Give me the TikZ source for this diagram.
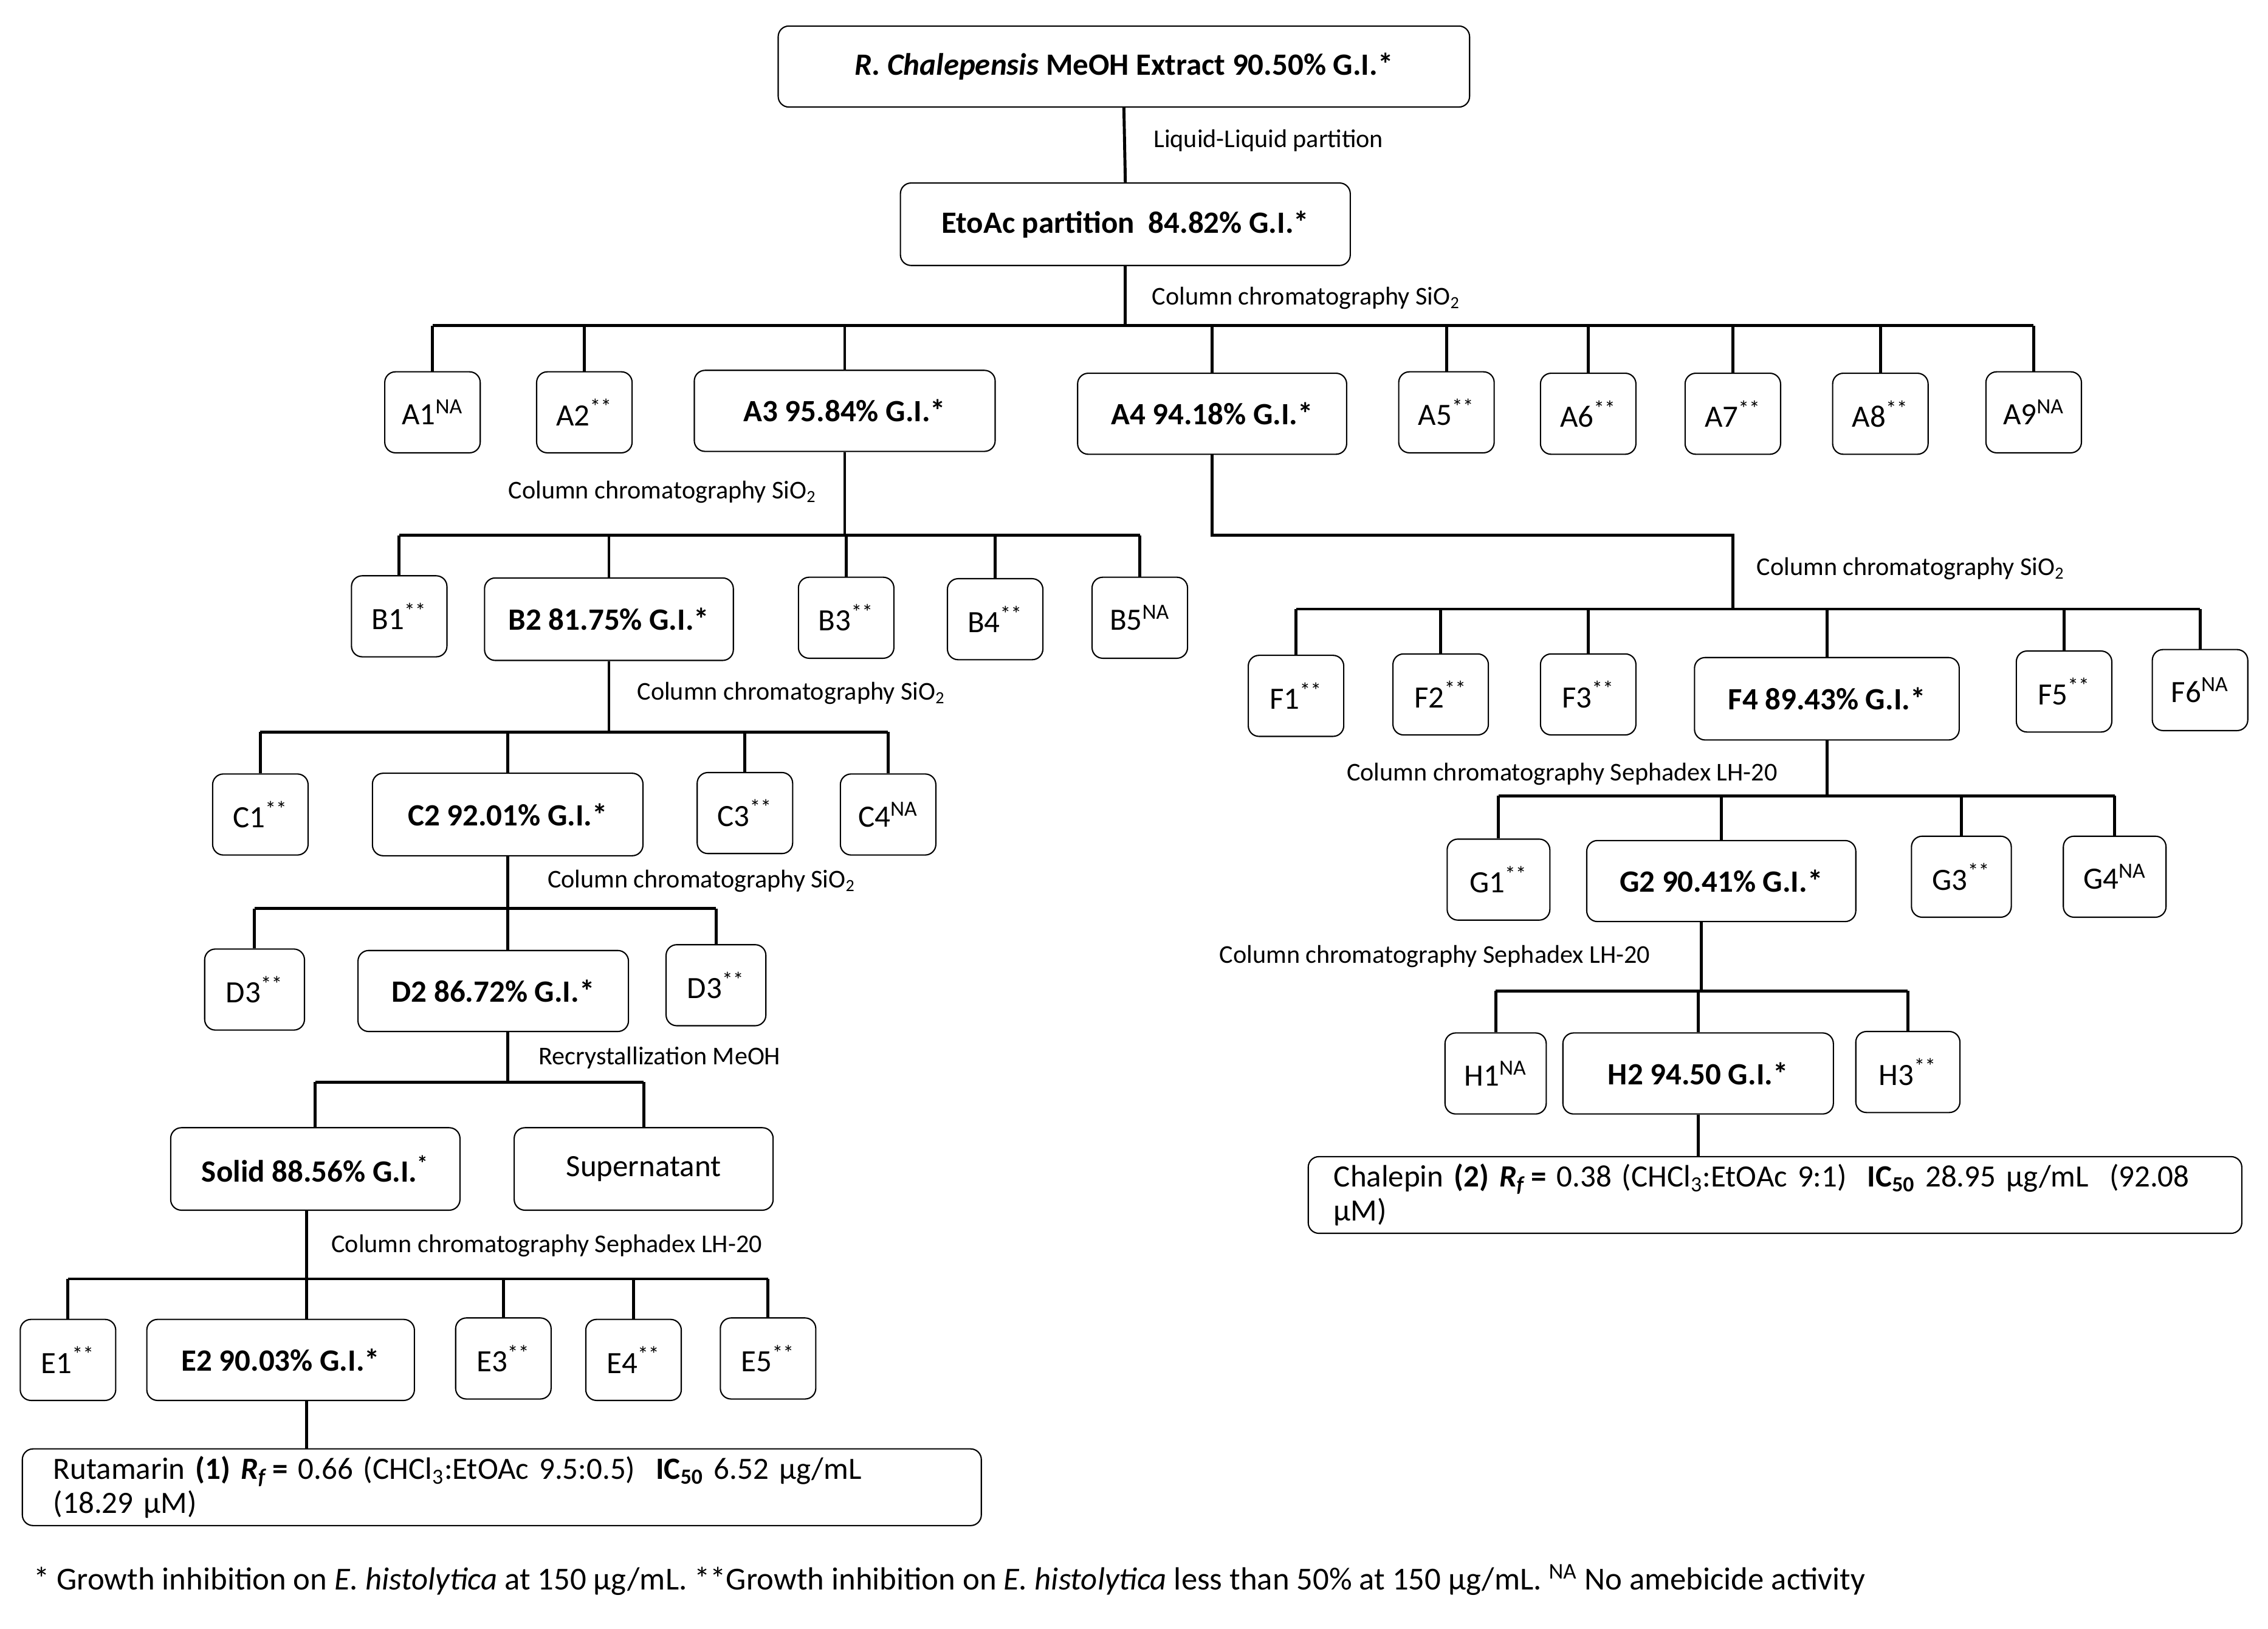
\documentclass[tikz,border=0pt]{standalone}
\usepackage{fontspec}
\setmainfont{Carlito}
\begin{document}
\begin{tikzpicture}[x=0.0238cm,y=-0.0238cm,
 box/.style={draw,rounded corners=5pt,line width=0.6pt,minimum height=56*0.0238cm,inner sep=2pt,font=\fontsize{14.5}{16}\selectfont},
 sm/.style={box,minimum width=66*0.0238cm},
 big/.style={box,font=\fontsize{14.5}{16}\selectfont\bfseries},
 ln/.style={line width=1.4pt},
 lab/.style={font=\fontsize{12}{14}\selectfont,anchor=center}]
\useasboundingbox (0,0) rectangle (1568,1126);
% top
\node[big,minimum width=478*0.0238cm] (top) at (777,46) {\textit{R. Chalepensis} MeOH Extract 90.50\% G.I.*};
\node[big,minimum width=311*0.0238cm,minimum height=57*0.0238cm] (et) at (778,155) {EtoAc partition\ \ 84.82\% G.I.*};
\draw[ln] (top.south) -- (et.north);
\node[lab] at (877,97) {Liquid-Liquid partition};
% A level
\node[sm] (A1) at (299,285) {A1\textsuperscript{NA}};
\node[sm] (A2) at (404,285) {A2\textsuperscript{**}};
\node[big,minimum width=208*0.0238cm] (A3) at (584,284) {A3 95.84\% G.I.*};
\node[big,minimum width=186*0.0238cm] (A4) at (838,286) {A4 94.18\% G.I.*};
\node[sm] (A5) at (1000,285) {A5\textsuperscript{**}};
\node[sm] (A6) at (1098,286) {A6\textsuperscript{**}};
\node[sm] (A7) at (1198,286) {A7\textsuperscript{**}};
\node[sm] (A8) at (1300,286) {A8\textsuperscript{**}};
\node[sm] (A9) at (1406,285) {A9\textsuperscript{NA}};
\coordinate (ab) at (778,225);
\draw[ln] (et.south) -- (ab);
\draw[ln] (A1.north|-ab) -- (A9.north|-ab);
\foreach \n in {A1,A2,A3,A4,A5,A6,A7,A8,A9} \draw[ln] (\n.north|-ab) -- (\n.north);
\node[lab] at (903,206) {Column chromatography SiO\textsubscript{2}};
% B level
\node[sm] (B1) at (276,426) {B1\textsuperscript{**}};
\node[big,minimum width=172*0.0238cm,minimum height=57*0.0238cm] (B2) at (421,428) {B2 81.75\% G.I.*};
\node[sm] (B3) at (585,427) {B3\textsuperscript{**}};
\node[sm] (B4) at (688,428) {B4\textsuperscript{**}};
\node[sm] (B5) at (788,427) {B5\textsuperscript{NA}};
\coordinate (bb) at (581,370);
\draw[ln] (A3.south) -- (A3.south|-bb);
\draw[ln] (B1.north|-bb) -- (B5.north|-bb);
\foreach \n in {B1,B2,B3,B4,B5} \draw[ln] (\n.north|-bb) -- (\n.north);
\node[lab] at (458,340) {Column chromatography SiO\textsubscript{2}};
% C level
\node[sm] (C1) at (180,563) {C1\textsuperscript{**}};
\node[big,minimum width=187*0.0238cm,minimum height=57*0.0238cm] (C2) at (351,563) {C2 92.01\% G.I.*};
\node[sm] (C3) at (515,562) {C3\textsuperscript{**}};
\node[sm] (C4) at (614,563) {C4\textsuperscript{NA}};
\coordinate (cb) at (428,506);
\draw[ln] (B2.south) -- (B2.south|-cb);
\draw[ln] (C1.north|-cb) -- (C4.north|-cb);
\foreach \n in {C1,C2,C3,C4} \draw[ln] (\n.north|-cb) -- (\n.north);
\node[lab] at (547,479) {Column chromatography SiO\textsubscript{2}};
% D level
\node[sm,minimum width=69*0.0238cm] (D1) at (176,684) {D3\textsuperscript{**}};
\node[big,minimum width=187*0.0238cm] (D2) at (341,685) {D2 86.72\% G.I.*};
\node[sm,minimum width=69*0.0238cm] (D3) at (495,681) {D3\textsuperscript{**}};
\coordinate (db) at (351,628);
\draw[ln] (C2.south) -- (C2.south|-db);
\draw[ln] (D1.north|-db) -- (D3.north|-db);
\draw[ln] (D1.north|-db) -- (D1.north);
\draw[ln] (C2.south|-db) -- (C2.south|-D2.north);
\draw[ln] (D3.north|-db) -- (D3.north);
\node[lab] at (485,609) {Column chromatography SiO\textsubscript{2}};
% recrystallization
\node[box,minimum width=200*0.0238cm,minimum height=57*0.0238cm,font=\fontsize{14.5}{16}\selectfont\bfseries] (S) at (218,808) {Solid 88.56\% G.I.\textsuperscript{*}};
\node[box,minimum width=179*0.0238cm,minimum height=57*0.0238cm] (SP) at (445,808) {Supernatant};
\coordinate (sb) at (351,748);
\draw[ln] (D2.south-|sb) -- (sb);
\draw[ln] (S.north|-sb) -- (SP.north|-sb);
\draw[ln] (S.north|-sb) -- (S.north);
\draw[ln] (SP.north|-sb) -- (SP.north);
\node[lab] at (456,731) {Recrystallization MeOH};
% E level
\node[sm] (E1) at (47,940) {E1\textsuperscript{**}};
\node[big,minimum width=185*0.0238cm] (E2) at (194,940) {E2 90.03\% G.I.*};
\node[sm] (E3) at (348,939) {E3\textsuperscript{**}};
\node[sm] (E4) at (438,940) {E4\textsuperscript{**}};
\node[sm] (E5) at (531,939) {E5\textsuperscript{**}};
\coordinate (eb) at (212,884);
\draw[ln] (S.south-|eb) -- (eb);
\draw[ln] (E1.north|-eb) -- (E5.north|-eb);
\foreach \n in {E1,E3,E4,E5} \draw[ln] (\n.north|-eb) -- (\n.north);
\draw[ln] (eb) -- (eb|-E2.north);
\node[lab] at (378,861) {Column chromatography Sephadex LH-20};
\node[box,minimum width=663*0.0238cm,minimum height=53*0.0238cm,anchor=west,inner xsep=14pt,text width=620*0.0238cm,align=left] (R) at (15,1028) {Rutamarin \textbf{(1)} \textbf{\textit{R}\textsubscript{\textit{f}}\,=} 0.66 (CHCl\textsubscript{3}:EtOAc 9.5:0.5)\ \ \textbf{IC\textsubscript{50}} 6.52 µg/mL (18.29 µM)};
\draw[ln] (E2.south-|eb) -- (eb|-R.north);
% F level
\node[sm] (F1) at (896,481) {F1\textsuperscript{**}};
\node[sm] (F2) at (996,480) {F2\textsuperscript{**}};
\node[sm] (F3) at (1098,480) {F3\textsuperscript{**}};
\node[big,minimum width=183*0.0238cm,minimum height=57*0.0238cm] (F4) at (1263,483) {F4 89.43\% G.I.*};
\node[sm] (F5) at (1427,478) {F5\textsuperscript{**}};
\node[sm] (F6) at (1521,477) {F6\textsuperscript{NA}};
\coordinate (k) at (1198,370);
\coordinate (fb) at (1198,421);
\draw[ln] (A4.south) -- (A4.south|-k) -- (k) -- (fb);
\draw[ln] (F1.north|-fb) -- (F6.north|-fb);
\foreach \n in {F1,F2,F3,F4,F5,F6} \draw[ln] (\n.north|-fb) -- (\n.north);
\node[lab] at (1321,393) {Column chromatography SiO\textsubscript{2}};
% G level
\node[sm,minimum width=71*0.0238cm] (G1) at (1036,608) {G1\textsuperscript{**}};
\node[big,minimum width=186*0.0238cm] (G2) at (1190,609) {G2 90.41\% G.I.*};
\node[sm,minimum width=69*0.0238cm] (G3) at (1356,606) {G3\textsuperscript{**}};
\node[sm,minimum width=71*0.0238cm] (G4) at (1462,606) {G4\textsuperscript{NA}};
\coordinate (gb) at (1263,550);
\draw[ln] (F4.south) -- (gb);
\draw[ln] (G1.north|-gb) -- (G4.north|-gb);
\foreach \n in {G1,G2,G3,G4} \draw[ln] (\n.north|-gb) -- (\n.north);
\node[lab] at (1080,535) {Column chromatography Sephadex LH-20};
% H level
\node[sm,minimum width=70*0.0238cm] (H1) at (1034,742) {H1\textsuperscript{NA}};
\node[big,minimum width=187*0.0238cm] (H2) at (1174,742) {H2 94.50 G.I.*};
\node[sm,minimum width=72*0.0238cm] (H3) at (1319,741) {H3\textsuperscript{**}};
\coordinate (hb) at (1176,685);
\draw[ln] (G2.south-|hb) -- (hb);
\draw[ln] (H1.north|-hb) -- (H3.north|-hb);
\foreach \n in {H1,H2,H3} \draw[ln] (\n.north|-hb) -- (\n.north);
\node[lab] at (992,661) {Column chromatography Sephadex LH-20};
\node[box,minimum width=642*0.0238cm,minimum height=53*0.0238cm,anchor=west,inner xsep=12pt,text width=610*0.0238cm,align=left] (CH) at (904,826) {Chalepin \textbf{(2)} \textbf{\textit{R}\textsubscript{\textit{f}}\,=} 0.38 (CHCl\textsubscript{3}:EtOAc 9:1)\ \ \textbf{IC\textsubscript{50}} 28.95 µg/mL\ \ (92.08 µM)};
\draw[ln] (H2.south) -- (H2.south|-CH.north);
% footnote
\node[anchor=west,font=\fontsize{15}{17}\selectfont] (fn) at (18,1092) {* Growth inhibition on \textit{E. histolytica} at 150 µg/mL. **Growth inhibition on \textit{E. histolytica} less than 50\% at 150 µg/mL. \textsuperscript{NA} No amebicide activity};
\end{tikzpicture}
\end{document}
